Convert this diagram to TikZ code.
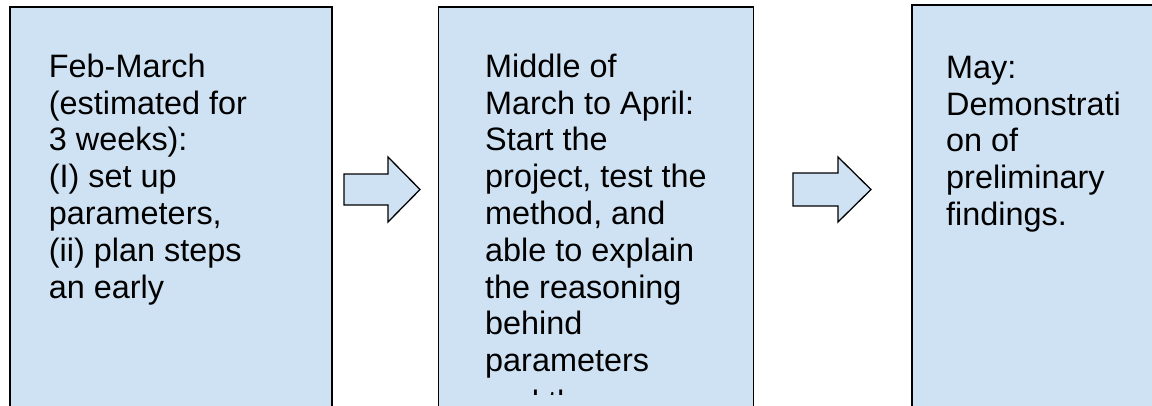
\documentclass[tikz,border=0pt]{standalone}
\usepackage{fontspec}
\setmainfont{Liberation Sans}
\definecolor{boxblue}{HTML}{CFE2F3}
\begin{document}
\begin{tikzpicture}[x=1pt,y=-1pt,
  panel/.style={draw=black, line width=1.6pt, fill=boxblue, rectangle,
    anchor=north west, inner sep=0pt, minimum height=440pt},
  blockarrow/.style={draw=black, line width=1.3pt, fill=boxblue, line join=miter},
  txt/.style={anchor=base west, inner sep=0pt, font=\fontsize{32.4}{36.8}\selectfont}]
\useasboundingbox (0,0) rectangle (1152,405);
\clip (0,0) rectangle (1152,405);

% three stage panels, running off the lower edge
\node[panel, minimum width=321.7pt] (p1) at (9.3,6) {};
\node[panel, minimum width=315pt] (p2) at (437.7,6) {};
\node[panel, minimum width=300pt] (p3) at (911,4) {};

% block arrows between the panels
\draw[blockarrow] (344,174) -- (388,174) -- (388,157) -- (420,189.5)
  -- (388,222) -- (388,205) -- (344,205) -- cycle;
\draw[blockarrow] (793,173) -- (838,173) -- (838,157) -- (871,189.5)
  -- (838,222) -- (838,206) -- (793,206) -- cycle;

% panel texts, one node per line
\foreach \t [count=\i from 0] in {{Feb-March}, {(estimated for}, {3 weeks):},
    {(I) set up}, {parameters,}, {(ii) plan steps}, {an early}}
  \node[txt] (a\i) at (48.7,{77.3+36.8*\i}) {\t};

\begin{scope}
  % the text frame of the middle panel cuts its last line
  \clip (440,0) rectangle (750,394);
  \foreach \t [count=\i from 0] in {{Middle of}, {March to April:}, {Start the},
      {project, test the}, {method, and}, {able to explain}, {the reasoning},
      {behind}, {parameters}}
    \node[txt] (b\i) at (485,{77.3+36.8*\i}) {\t};
  \node[txt] (b9) at (485,413.5) {and the};
\end{scope}

\foreach \t [count=\i from 0] in {{May:}, {Demonstrati}, {on of}, {preliminary},
    {findings.}}
  \node[txt] (c\i) at (946,{78.3+36.8*\i}) {\t};
\end{tikzpicture}
\end{document}
